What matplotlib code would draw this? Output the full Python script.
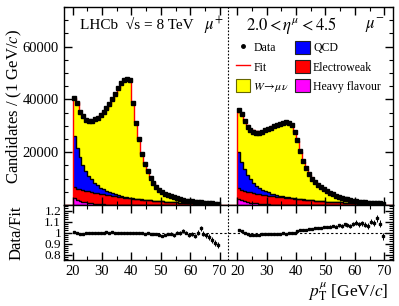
import numpy as np
import matplotlib.pyplot as plt
from matplotlib.lines import Line2D
from matplotlib.patches import Patch

plt.rcParams['font.family'] = ['Liberation Serif', 'DejaVu Serif']
plt.rcParams['mathtext.fontset'] = 'stix'

# bins of 1 GeV/c from 20 to 70 in each charge
pt_edges = np.arange(20, 71)

# mu+ (left half)
data_plus = [40600, 38700, 35200, 33700, 32300, 31800, 31900, 32400, 33000, 34000,
             35200, 36600, 38200, 40000, 42000, 44200, 46200, 47300, 47900, 47400,
             38700, 31200, 24900, 19200, 15500, 12900, 10400, 8500, 6800, 5700,
             4900, 4300, 3700, 3300, 2900, 2500, 2200, 1950, 1700, 1500,
             1350, 1200, 1080, 980, 880, 790, 700, 630, 560, 500]
qcd_plus = [19500, 15500, 12200, 9600, 7600, 6000, 4800, 3800, 3000, 2400,
            1900, 1500, 1200, 950, 750, 600, 480, 380, 300, 240,
            190, 150, 120, 95, 75, 60, 48, 38, 30, 24,
            20, 16, 13, 10, 8, 6, 5, 4, 3, 3,
            2, 2, 2, 1, 1, 1, 1, 1, 1, 1]
ew_plus = [4200, 4250, 4300, 4350, 4350, 4350, 4300, 4200, 4100, 3950,
           3800, 3650, 3500, 3350, 3200, 3050, 2900, 2750, 2600, 2480,
           2360, 2250, 2140, 2040, 1940, 1840, 1750, 1660, 1580, 1500,
           1400, 1310, 1220, 1140, 1060, 990, 920, 860, 800, 740,
           690, 640, 590, 550, 510, 470, 440, 410, 380, 350]
hf_plus = [2500, 2000, 1600, 1250, 1000, 780, 600, 470, 360, 280,
           210, 160, 120, 90, 70, 50, 40, 30, 20, 15,
           10, 8, 6, 5, 4, 3, 3, 2, 2, 2,
           1, 1, 1, 1, 1, 1, 1, 1, 1, 1,
           0, 0, 0, 0, 0, 0, 0, 0, 0, 0]
ratio_plus = [1.005, 0.995, 0.99, 0.99, 0.995, 0.995, 1.0, 0.995, 1.0, 1.0,
              1.0, 1.005, 1.0, 1.005, 1.0, 1.0, 0.995, 1.0, 0.995, 1.0,
              0.995, 0.995, 1.0, 0.995, 0.99, 0.995, 0.99, 0.985, 0.985, 0.975,
              0.965, 0.975, 0.985, 0.99, 0.975, 1.0, 0.995, 1.015, 1.0, 0.98,
              0.985, 0.97, 1.0, 1.04, 0.99, 0.975, 0.96, 0.935, 0.905, 0.885]

# mu- (right half)
data_minus = [36000, 34300, 31800, 29700, 28400, 27600, 27300, 27400, 27800, 28300,
              28800, 29300, 29800, 30200, 30600, 31100, 31400, 31200, 30200, 27500,
              24500, 20500, 16700, 14000, 11600, 10000, 8900, 7700, 6800, 6000,
              5300, 4600, 4000, 3500, 3100, 2750, 2450, 2200, 1900, 1700,
              1500, 1330, 1180, 1050, 940, 840, 750, 670, 600, 540]
qcd_minus = [13600, 10500, 8200, 6300, 4900, 3800, 3000, 2400, 1900, 1500,
             1200, 950, 760, 600, 480, 380, 300, 240, 190, 150,
             120, 95, 75, 60, 48, 38, 30, 24, 19, 15,
             12, 10, 8, 6, 5, 4, 3, 3, 2, 2,
             2, 1, 1, 1, 1, 1, 1, 1, 1, 1]
ew_minus = [3900, 3900, 3900, 3880, 3850, 3800, 3720, 3640, 3550, 3450,
            3350, 3240, 3130, 3020, 2910, 2800, 2700, 2600, 2500, 2400,
            2250, 2150, 2050, 1950, 1850, 1760, 1670, 1590, 1510, 1430,
            1300, 1230, 1160, 1100, 1040, 980, 920, 870, 820, 770,
            720, 680, 640, 600, 560, 530, 500, 470, 440, 410]
hf_minus = [2400, 1900, 1500, 1200, 950, 750, 580, 450, 350, 270,
            200, 150, 115, 85, 65, 50, 38, 28, 20, 15,
            10, 8, 6, 5, 4, 3, 3, 2, 2, 2,
            1, 1, 1, 1, 1, 1, 1, 1, 1, 1,
            0, 0, 0, 0, 0, 0, 0, 0, 0, 0]
ratio_minus = [1.02, 1.01, 0.995, 0.985, 0.98, 0.975, 0.98, 0.98, 0.985, 0.985,
               0.985, 0.985, 0.99, 0.99, 0.99, 0.995, 0.99, 0.995, 1.0, 1.0,
               1.01, 1.02, 1.025, 1.025, 1.03, 1.035, 1.04, 1.045, 1.04, 1.05,
               1.05, 1.055, 1.06, 1.055, 1.065, 1.06, 1.075, 1.07, 1.06, 1.08,
               1.09, 1.075, 1.085, 1.07, 1.06, 1.10, 1.085, 1.13, 1.08, 0.965]

tick_vals = [20, 30, 40, 50, 60, 70]

# each half spans 17..73 GeV/c, right half shifted by 56
lo, hi = 17, 73
shift = hi - lo

fig = plt.figure(figsize=(3.99, 3.06), dpi=100)
ax = fig.add_axes([0.160, 0.330, 0.825, 0.647])
axr = fig.add_axes([0.160, 0.150, 0.825, 0.180], sharex=ax)

for k, (data, qcd, ew, hf, ratio) in enumerate([
        (data_plus, qcd_plus, ew_plus, hf_plus, ratio_plus),
        (data_minus, qcd_minus, ew_minus, hf_minus, ratio_minus)]):
    off = -lo + k * shift
    edges = pt_edges + off
    centers = (edges[:-1] + edges[1:]) / 2
    data = np.array(data, float)
    ratio = np.array(ratio)
    fit = data / ratio
    l1 = np.array(hf, float)
    l2 = l1 + np.array(ew)
    l3 = l2 + np.array(qcd)
    # stack: heavy flavour, electroweak, QCD, W
    ax.stairs(fit, edges, baseline=l3, fill=True, color='#ffff00', lw=0)
    ax.stairs(l3, edges, baseline=l2, fill=True, color='#0000ff', lw=0)
    ax.stairs(l2, edges, baseline=l1, fill=True, color='#ff0000', lw=0)
    ax.stairs(l1, edges, baseline=0, fill=True, color='#ff00ff', lw=0)
    for lay in (l1, l2, l3):
        ax.stairs(lay, edges, color='k', lw=1.0, baseline=None)
    # fit line, flat at zero outside the fitted range
    ax.stairs(np.concatenate([[0], fit, [0]]),
              np.concatenate([[k * shift], edges, [(k + 1) * shift]]),
              color='#ff0000', lw=1.0, baseline=None)
    ax.plot(centers, data, 's', color='k', ms=3.0)
    err = ratio / np.sqrt(data) * 0.7
    axr.errorbar(centers, ratio, yerr=err, fmt='s', color='k', ms=2.0,
                 elinewidth=0.7, capsize=0)

ax.set_xlim(0, 2 * shift)
ax.set_ylim(0, 75000)
axr.set_ylim(0.75, 1.25)

for a in (ax, axr):
    a.axvline(shift, color='k', ls=(0, (1.5, 1.5)), lw=0.8)
    a.tick_params(direction='in', which='both', top=True, right=True,
                  labelsize=10.5)
    a.tick_params(which='major', length=6, width=1.0)
    a.tick_params(which='minor', length=3, width=0.8)
    for s in a.spines.values():
        s.set_linewidth(1.0)
axr.tick_params(axis='y', labelsize=9.5, pad=2)
axr.axhline(1.0, color='k', ls=(0, (2, 2)), lw=0.8)

xt = [t - lo for t in tick_vals] + [t - lo + shift for t in tick_vals]
xl = [str(t) for t in tick_vals] * 2
axr.set_xticks(xt)
axr.set_xticklabels(xl)
xm = [t - lo for t in np.arange(20, 71, 5)] + [t - lo + shift for t in np.arange(20, 71, 5)]
axr.set_xticks(xm, minor=True)
plt.setp(ax.get_xticklabels(), visible=False)

ax.set_yticks([20000, 40000, 60000])
ax.set_yticks(np.arange(5000, 75001, 5000), minor=True)
axr.set_yticks([0.8, 0.9, 1.0, 1.1, 1.2])
axr.set_yticklabels(['0.8', '0.9', '1', '1.1', '1.2'])
axr.set_yticks(np.arange(0.76, 1.25, 0.02), minor=True)

ax.set_ylabel('Candidates / (1 GeV/$c$)', fontsize=12)
axr.set_ylabel('Data/Fit', fontsize=12)
ax.yaxis.set_label_coords(-0.12, 0.5)
axr.yaxis.set_label_coords(-0.12, 0.5)
axr.set_xlabel(r'$p_{\mathrm{T}}^{\mu}$ [GeV/$c$]', fontsize=12.5)
axr.xaxis.set_label_coords(0.985, -0.36)
axr.xaxis.label.set_ha('right')

ax.text(0.05, 0.905, 'LHCb  \u221as = 8 TeV', transform=ax.transAxes,
        fontsize=11, va='center')
ax.text(0.455, 0.905, r'$\mu^{+}$', transform=ax.transAxes, fontsize=12,
        va='center', ha='center')
ax.text(0.69, 0.905, r'$2.0 < \eta^{\mu} < 4.5$', transform=ax.transAxes,
        fontsize=12, va='center', ha='center')
ax.text(0.945, 0.905, r'$\mu^{-}$', transform=ax.transAxes, fontsize=12,
        va='center', ha='center')

handles = [
    Line2D([], [], marker='o', ls='none', color='k', ms=2.5),
    Line2D([], [], color='#ff0000', lw=1.0),
    Patch(facecolor='#ffff00', edgecolor='#666600', lw=0.8),
    Patch(facecolor='#0000ff', edgecolor='#222222', lw=0.8),
    Patch(facecolor='#ff0000', edgecolor='#222222', lw=0.8),
    Patch(facecolor='#ff00ff', edgecolor='#222222', lw=0.8),
]
labels = ['Data', 'Fit', r'$W\!\rightarrow\!\mu\,\nu$', 'QCD', 'Electroweak',
          'Heavy flavour']
ax.legend(handles, labels, ncol=2, frameon=False, fontsize=8.5,
          loc='upper left', bbox_to_anchor=(0.5, 0.865), handlelength=1.2,
          handleheight=1.3, handletextpad=0.3, columnspacing=0.5,
          labelspacing=0.5, borderpad=0.1)

fig.savefig('out.png', dpi=100)
